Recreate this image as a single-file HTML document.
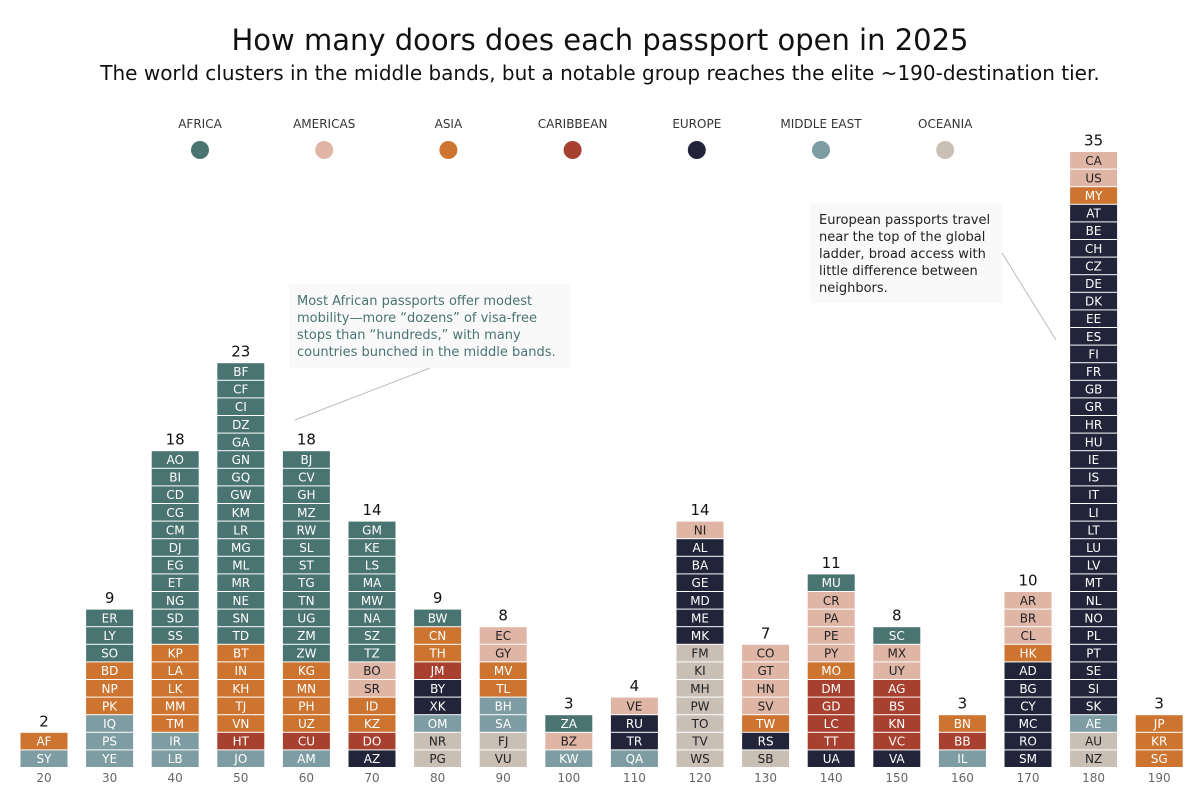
<!DOCTYPE html>
<html><head><meta charset="utf-8"><style>
body{margin:0;background:#fff;font-family:"DejaVu Sans","Liberation Sans",sans-serif;}
svg text{font-family:"DejaVu Sans","Liberation Sans",sans-serif;}
</style></head><body>
<svg id="chart" width="1200" height="800" viewBox="0 0 1200 800" xmlns="http://www.w3.org/2000/svg">
<text x="600" y="50" text-anchor="middle" font-size="29" fill="#111">How many doors does each passport open in 2025</text>
<text x="600" y="80" text-anchor="middle" font-size="20" fill="#111">The world clusters in the middle bands, but a notable group reaches the elite ~190-destination tier.</text>
<g id="legend"></g>
<g id="marks"></g>
<g>
<rect x="289" y="284" width="281" height="84" fill="#f9f9f9"/>
<text font-size="13" fill="#4a7472"><tspan x="297" y="305">Most African passports offer modest</tspan><tspan x="297" y="322">mobility—more “dozens” of visa-free</tspan><tspan x="297" y="339">stops than “hundreds,” with many</tspan><tspan x="297" y="356">countries bunched in the middle bands.</tspan></text>
<line x1="430" y1="368" x2="295" y2="420" stroke="#bbb" stroke-width="1"/>
</g>
<g>
<rect x="810" y="203" width="192" height="100" fill="#f9f9f9"/>
<text font-size="13" fill="#222"><tspan x="819" y="224">European passports travel</tspan><tspan x="819" y="241">near the top of the global</tspan><tspan x="819" y="258">ladder, broad access with</tspan><tspan x="819" y="275">little difference between</tspan><tspan x="819" y="292">neighbors.</tspan></text>
<line x1="1002" y1="253" x2="1056" y2="340" stroke="#bbb" stroke-width="1"/>
</g>
</svg>
<script>
const regions=["AFRICA","AMERICAS","ASIA","CARIBBEAN","EUROPE","MIDDLE EAST","OCEANIA"];
const regionColors=["#4a7472","#dfb5a5","#cd7530","#a8402f","#22253a","#7d9da3","#c9bfb5"];
const textColors=["#fff","#222","#fff","#fff","#fff","#fff","#222"];
const bins=[20,30,40,50,60,70,80,90,100,110,120,130,140,150,160,170,180,190];
// each column listed top to bottom: "CODE:regionIndex"
const columns=[
"AF:2 SY:5",
"ER:0 LY:0 SO:0 BD:2 NP:2 PK:2 IQ:5 PS:5 YE:5",
"AO:0 BI:0 CD:0 CG:0 CM:0 DJ:0 EG:0 ET:0 NG:0 SD:0 SS:0 KP:2 LA:2 LK:2 MM:2 TM:2 IR:5 LB:5",
"BF:0 CF:0 CI:0 DZ:0 GA:0 GN:0 GQ:0 GW:0 KM:0 LR:0 MG:0 ML:0 MR:0 NE:0 SN:0 TD:0 BT:2 IN:2 KH:2 TJ:2 VN:2 HT:3 JO:5",
"BJ:0 CV:0 GH:0 MZ:0 RW:0 SL:0 ST:0 TG:0 TN:0 UG:0 ZM:0 ZW:0 KG:2 MN:2 PH:2 UZ:2 CU:3 AM:5",
"GM:0 KE:0 LS:0 MA:0 MW:0 NA:0 SZ:0 TZ:0 BO:1 SR:1 ID:2 KZ:2 DO:3 AZ:4",
"BW:0 CN:2 TH:2 JM:3 BY:4 XK:4 OM:5 NR:6 PG:6",
"EC:1 GY:1 MV:2 TL:2 BH:5 SA:5 FJ:6 VU:6",
"ZA:0 BZ:1 KW:5",
"VE:1 RU:4 TR:4 QA:5",
"NI:1 AL:4 BA:4 GE:4 MD:4 ME:4 MK:4 FM:6 KI:6 MH:6 PW:6 TO:6 TV:6 WS:6",
"CO:1 GT:1 HN:1 SV:1 TW:2 RS:4 SB:6",
"MU:0 CR:1 PA:1 PE:1 PY:1 MO:2 DM:3 GD:3 LC:3 TT:3 UA:4",
"SC:0 MX:1 UY:1 AG:3 BS:3 KN:3 VC:3 VA:4",
"BN:2 BB:3 IL:5",
"AR:1 BR:1 CL:1 HK:2 AD:4 BG:4 CY:4 MC:4 RO:4 SM:4",
"CA:1 US:1 MY:2 AT:4 BE:4 CH:4 CZ:4 DE:4 DK:4 EE:4 ES:4 FI:4 FR:4 GB:4 GR:4 HR:4 HU:4 IE:4 IS:4 IT:4 LI:4 LT:4 LU:4 LV:4 MT:4 NL:4 NO:4 PL:4 PT:4 SE:4 SI:4 SK:4 AE:5 AU:6 NZ:6",
"JP:2 KR:2 SG:2"
];
const NS="http://www.w3.org/2000/svg";
const x=v=>44+(v-20)/10*65.6;
const UNIT=17.6, BASE=767.5, W=47;
const y=i=>BASE-(i+1)*UNIT;
function mk(t,a,p){const e=document.createElementNS(NS,t);for(const k in a)e.setAttribute(k,a[k]);p.appendChild(e);return e;}
const leg=document.getElementById('legend');
regions.forEach((r,i)=>{const cx=200+i*124.2;
const g=mk('g',{},leg);


const t=mk('text',{x:cx,y:128,'text-anchor':'middle','font-size':12,fill:'#333'},g);t.textContent=r;
mk('circle',{cx:cx,cy:150,r:9,fill:regionColors[i]},g);});
const marks=document.getElementById('marks');
bins.forEach((b,ci)=>{
const items=columns[ci].split(' ').map(s=>s.split(':')).reverse();
const g=mk('g',{},marks);


items.forEach((it,i)=>{const reg=+it[1];
const r=mk('rect',{x:x(b)-W/2,y:y(i)+0.5,width:W,height:UNIT-1,fill:regionColors[reg]},g);


const t=mk('text',{x:x(b),y:y(i)+UNIT/2+4.5,'text-anchor':'middle','font-size':12,fill:textColors[reg]},g);t.textContent=it[0];});
const c=mk('text',{x:x(b),y:y(items.length-1)-6,'text-anchor':'middle','font-size':15,fill:'#111'},g);


c.textContent=items.length;
const tl=mk('text',{x:x(b),y:782,'text-anchor':'middle','font-size':12,fill:'#666'},g);


tl.textContent=b;
});
</script>
</body></html>
